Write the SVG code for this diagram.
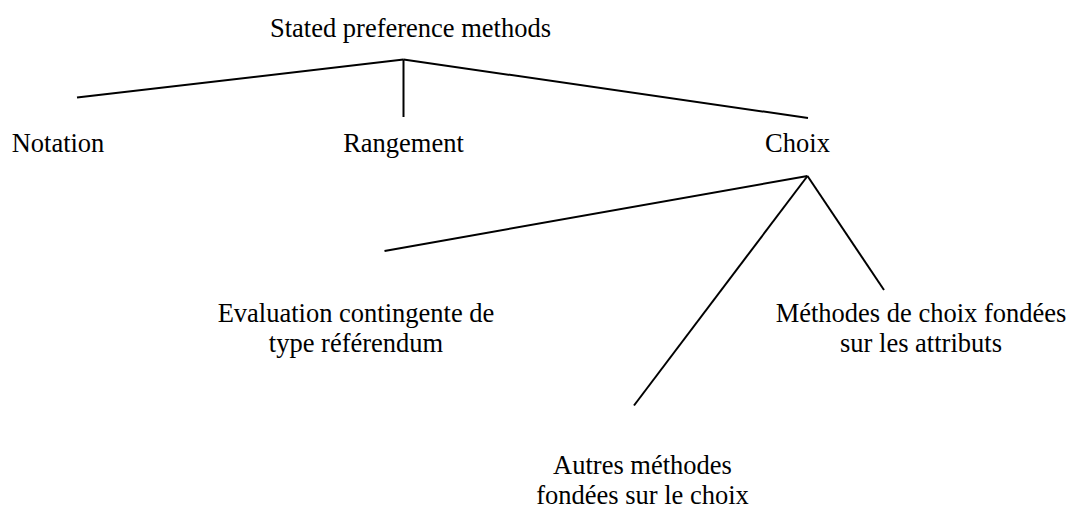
<svg xmlns="http://www.w3.org/2000/svg" width="1070" height="509" viewBox="0 0 1070 509">
<style>
.t{font-family:"Liberation Serif","Times New Roman",serif;font-size:26.5px;fill:#000;text-anchor:middle}
.c line{stroke:#000;stroke-width:2;stroke-linecap:butt}
</style>
<rect width="1070" height="509" fill="#fff"/>
<g class="c" id="connectors">
<line x1="403.5" y1="59.5" x2="77" y2="97.5"/>
<line x1="403.5" y1="59.5" x2="403.5" y2="117"/>
<line x1="403.5" y1="59.5" x2="808" y2="118"/>
<line x1="807.5" y1="176" x2="384.5" y2="251"/>
<line x1="807.5" y1="176" x2="634" y2="405.5"/>
<line x1="807.5" y1="176" x2="884" y2="290"/>
</g>
<g id="root"><text class="t" x="410.5" y="36.5">Stated preference methods</text></g>
<g id="notation"><text class="t" x="58" y="152">Notation</text></g>
<g id="rangement"><text class="t" x="403.5" y="152">Rangement</text></g>
<g id="choix"><text class="t" x="797.5" y="152">Choix</text></g>
<g id="evaluation"><text class="t" x="356" y="321.5">Evaluation contingente de</text><text class="t" x="356" y="352">type référendum</text></g>
<g id="methodes"><text class="t" x="921" y="321.5">Méthodes de choix fondées</text><text class="t" x="921" y="352">sur les attributs</text></g>
<g id="autres"><text class="t" x="642.5" y="474">Autres méthodes</text><text class="t" x="642.5" y="503.5">fondées sur le choix</text></g>
</svg>
